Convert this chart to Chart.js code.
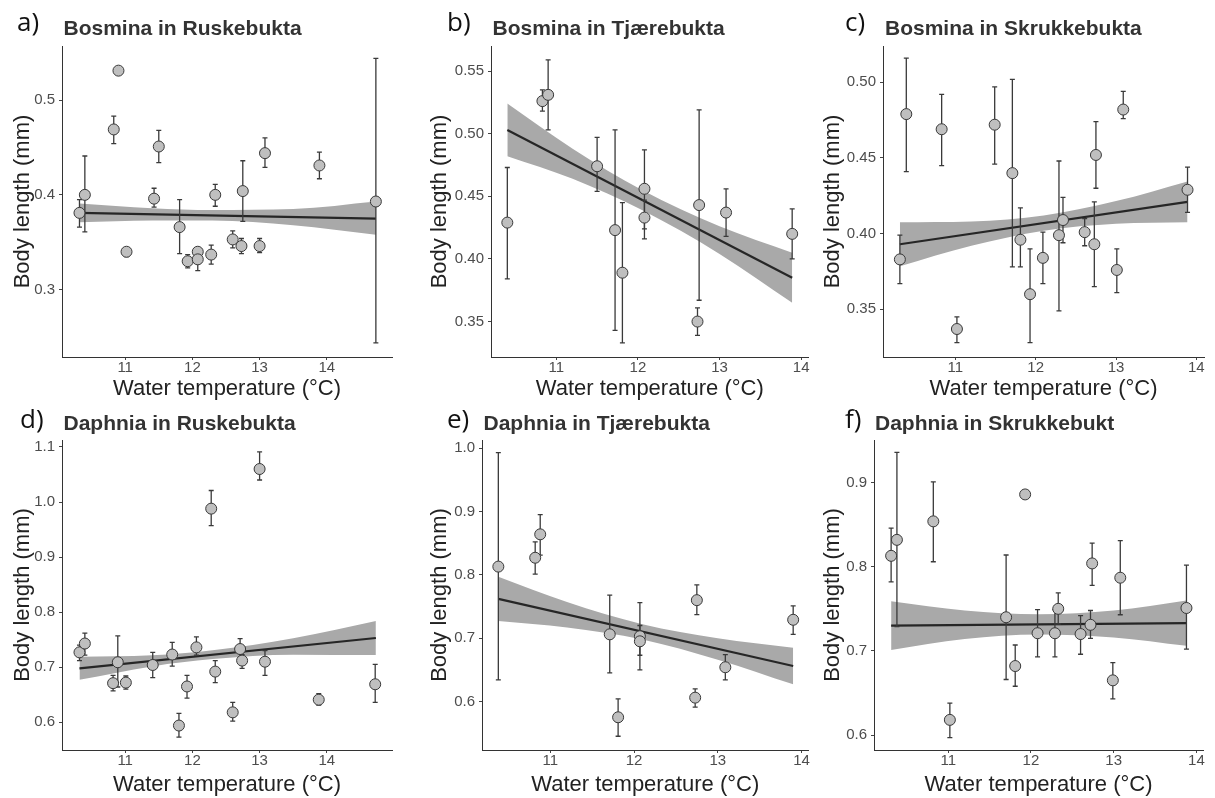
<!DOCTYPE html>
<html>
<head>
<meta charset="utf-8">
<title>Body length vs water temperature</title>
<script src="https://cdn.jsdelivr.net/npm/chart.js@4.4.1/dist/chart.umd.min.js"></script>
<style>
  html, body { margin: 0; padding: 0; background: #fff; }
  #wrap { position: relative; width: 1215px; height: 798px; overflow: hidden; }
  #wrap canvas { position: absolute; }
</style>
</head>
<body>
<div id="wrap"></div>
<script>
// x ticks shared by all panels
const tempTicks = [11, 12, 13, 14];

// a) Bosmina in Ruskebukta
const aTemp = [10.32, 10.40, 10.90, 10.83, 11.02, 11.43, 11.50, 11.81, 11.93, 12.08, 12.08, 12.28, 12.34, 12.60, 12.73, 12.75, 13.00, 13.08, 13.89, 14.73];
const aLength = [0.381, 0.400, 0.531, 0.469, 0.340, 0.396, 0.451, 0.366, 0.330, 0.340, 0.332, 0.337, 0.400, 0.353, 0.346, 0.404, 0.346, 0.444, 0.431, 0.393];
const aLow = [0.366, 0.361, 0.531, 0.454, 0.335, 0.387, 0.434, 0.338, 0.323, 0.340, 0.320, 0.327, 0.388, 0.344, 0.338, 0.372, 0.339, 0.429, 0.417, 0.244];
const aHigh = [0.395, 0.441, 0.531, 0.483, 0.344, 0.407, 0.468, 0.395, 0.337, 0.340, 0.339, 0.347, 0.411, 0.362, 0.354, 0.436, 0.354, 0.460, 0.445, 0.544];
const aFitX = [10.32, 14.73];
const aFitY = [0.381, 0.375];
const aBandX = [10.32, 11.4, 12.3, 13.5, 14.73];
const aBandUp = [0.391, 0.386, 0.384, 0.385, 0.393];
const aBandLo = [0.371, 0.373, 0.373, 0.368, 0.358];
const aYTicks = ['0.3', '0.4', '0.5'];

// b) Bosmina in Tjærebukta
const bTemp = [10.40, 10.83, 10.90, 11.50, 11.72, 11.81, 12.08, 12.08, 12.75, 12.73, 13.08, 13.89];
const bLength = [0.429, 0.526, 0.531, 0.474, 0.423, 0.389, 0.456, 0.433, 0.443, 0.350, 0.437, 0.420];
const bLow = [0.384, 0.518, 0.503, 0.454, 0.343, 0.333, 0.424, 0.416, 0.367, 0.339, 0.418, 0.400];
const bHigh = [0.473, 0.535, 0.559, 0.497, 0.503, 0.445, 0.487, 0.447, 0.519, 0.361, 0.456, 0.440];
const bFitX = [10.40, 13.89];
const bFitY = [0.503, 0.385];
const bBandX = [10.40, 11.2, 12.05, 13.0, 13.89];
const bBandUp = [0.524, 0.488, 0.455, 0.426, 0.405];
const bBandLo = [0.482, 0.464, 0.439, 0.404, 0.365];
const bYTicks = ['0.35', '0.40', '0.45', '0.50', '0.55'];

// c) Bosmina in Skrukkebukta
const cTemp = [10.31, 10.39, 10.83, 11.02, 11.49, 11.71, 11.81, 11.93, 12.09, 12.29, 12.34, 12.61, 12.73, 12.75, 13.01, 13.09, 13.89];
const cLength = [0.383, 0.479, 0.469, 0.337, 0.472, 0.440, 0.396, 0.360, 0.384, 0.399, 0.409, 0.401, 0.393, 0.452, 0.376, 0.482, 0.429];
const cLow = [0.367, 0.441, 0.445, 0.328, 0.446, 0.378, 0.378, 0.328, 0.367, 0.349, 0.394, 0.392, 0.365, 0.430, 0.361, 0.476, 0.414];
const cHigh = [0.399, 0.516, 0.492, 0.345, 0.497, 0.502, 0.417, 0.390, 0.401, 0.448, 0.424, 0.410, 0.421, 0.474, 0.390, 0.494, 0.444];
const cFitX = [10.31, 13.89];
const cFitY = [0.393, 0.421];
const cBandX = [10.31, 11.2, 12.1, 13.0, 13.89];
const cBandUp = [0.4075, 0.408, 0.412, 0.4215, 0.4345];
const cBandLo = [0.3785, 0.392, 0.402, 0.4065, 0.4075];
const cYTicks = ['0.35', '0.40', '0.45', '0.50'];

// d) Daphnia in Ruskebukta
const dTemp = [10.32, 10.40, 10.82, 10.89, 11.01, 11.41, 11.70, 11.80, 11.92, 12.06, 12.28, 12.34, 12.60, 12.71, 12.74, 13.00, 13.08, 13.88, 14.72];
const dLength = [0.727, 0.743, 0.671, 0.709, 0.672, 0.704, 0.723, 0.594, 0.665, 0.736, 0.988, 0.692, 0.618, 0.733, 0.712, 1.060, 0.710, 0.641, 0.669];
const dLow = [0.712, 0.722, 0.657, 0.664, 0.660, 0.681, 0.702, 0.573, 0.644, 0.722, 0.957, 0.672, 0.602, 0.713, 0.698, 1.040, 0.685, 0.631, 0.636];
const dHigh = [0.740, 0.762, 0.685, 0.757, 0.684, 0.727, 0.745, 0.616, 0.685, 0.755, 1.021, 0.712, 0.636, 0.752, 0.723, 1.091, 0.730, 0.652, 0.705];
const dFitX = [10.32, 14.73];
const dFitY = [0.698, 0.753];
const dBandX = [10.32, 11.4, 12.3, 13.5, 14.73];
const dBandUp = [0.719, 0.7215, 0.7307, 0.7527, 0.784];
const dBandLo = [0.677, 0.7015, 0.7147, 0.7227, 0.722];
const dYTicks = ['0.6', '0.7', '0.8', '0.9', '1.0', '1.1'];

// e) Daphnia in Tjærebukta
const eTemp = [10.38, 10.82, 10.88, 11.71, 11.81, 12.07, 12.07, 12.75, 12.73, 13.09, 13.90];
const eLength = [0.813, 0.827, 0.864, 0.706, 0.575, 0.703, 0.695, 0.760, 0.606, 0.654, 0.729];
const eLow = [0.634, 0.801, 0.831, 0.645, 0.545, 0.673, 0.650, 0.737, 0.591, 0.634, 0.706];
const eHigh = [0.993, 0.852, 0.895, 0.768, 0.604, 0.756, 0.720, 0.784, 0.620, 0.674, 0.751];
const eFitX = [10.38, 13.90];
const eFitY = [0.762, 0.656];
const eBandX = [10.38, 11.2, 12.1, 13.0, 13.90];
const eBandUp = [0.797, 0.757, 0.722, 0.700, 0.685];
const eBandLo = [0.727, 0.717, 0.698, 0.666, 0.627];
const eYTicks = ['0.6', '0.7', '0.8', '0.9', '1.0'];

// f) Daphnia in Skrukkebukt
const fTemp = [10.31, 10.38, 10.82, 11.02, 11.70, 11.81, 11.93, 12.08, 12.29, 12.33, 12.60, 12.72, 12.74, 12.99, 13.08, 13.88];
const fLength = [0.813, 0.832, 0.854, 0.618, 0.740, 0.682, 0.886, 0.721, 0.721, 0.750, 0.720, 0.731, 0.804, 0.665, 0.787, 0.751];
const fLow = [0.782, 0.729, 0.806, 0.597, 0.666, 0.658, 0.886, 0.693, 0.693, 0.732, 0.696, 0.715, 0.778, 0.643, 0.743, 0.702];
const fHigh = [0.846, 0.936, 0.901, 0.638, 0.814, 0.707, 0.886, 0.749, 0.749, 0.769, 0.742, 0.748, 0.828, 0.686, 0.831, 0.802];
const fFitX = [10.31, 13.88];
const fFitY = [0.730, 0.733];
const fBandX = [10.31, 11.2, 12.1, 13.0, 13.88];
const fBandUp = [0.759, 0.748, 0.7435, 0.748, 0.760];
const fBandLo = [0.701, 0.714, 0.7195, 0.716, 0.706];
const fYTicks = ['0.6', '0.7', '0.8', '0.9'];

// panel setup (layout in page pixels)
const panels = [
	{ letter: "a)", title: "Bosmina in Ruskebukta", temp: aTemp, len: aLength, low: aLow, high: aHigh,
		fitX: aFitX, fitY: aFitY, bandX: aBandX, bandUp: aBandUp, bandLo: aBandLo, yTicks: aYTicks,
		xMin: 10.06, xMax: 14.97, yMin: 0.229, yMax: 0.557,
		box: { left: 0, top: 0, width: 405, height: 400 }, area: { left: 62, right: 392, top: 46, bottom: 357 },
		yTitleX: 23, xTitleY: 388.5, letterX: 17, letterY: 30.5, titleX: 63.5, titleY: 35 },
	{ letter: "b)", title: "Bosmina in Tjærebukta", temp: bTemp, len: bLength, low: bLow, high: bHigh,
		fitX: bFitX, fitY: bFitY, bandX: bBandX, bandUp: bBandUp, bandLo: bBandLo, yTicks: bYTicks,
		xMin: 10.2, xMax: 14.09, yMin: 0.3217, yMax: 0.570,
		box: { left: 405, top: 0, width: 410, height: 400 }, area: { left: 491, right: 811, top: 46, bottom: 357 },
		yTitleX: 440, xTitleY: 388.5, letterX: 447, letterY: 30.5, titleX: 492.5, titleY: 35 },
	{ letter: "c)", title: "Bosmina in Skrukkebukta", temp: cTemp, len: cLength, low: cLow, high: cHigh,
		fitX: cFitX, fitY: cFitY, bandX: cBandX, bandUp: cBandUp, bandLo: cBandLo, yTicks: cYTicks,
		xMin: 10.1, xMax: 14.095, yMin: 0.3185, yMax: 0.524,
		box: { left: 810, top: 0, width: 405, height: 400 }, area: { left: 883, right: 1204, top: 46, bottom: 357 },
		yTitleX: 832.5, xTitleY: 388.5, letterX: 845, letterY: 30.5, titleX: 885, titleY: 35 },
	{ letter: "d)", title: "Daphnia in Ruskebukta", temp: dTemp, len: dLength, low: dLow, high: dHigh,
		fitX: dFitX, fitY: dFitY, bandX: dBandX, bandUp: dBandUp, bandLo: dBandLo, yTicks: dYTicks,
		xMin: 10.06, xMax: 14.97, yMin: 0.5496, yMax: 1.1127,
		box: { left: 0, top: 400, width: 405, height: 398 }, area: { left: 62, right: 392, top: 440, bottom: 750 },
		yTitleX: 22.5, xTitleY: 784.5, letterX: 20, letterY: 428.3, titleX: 63.5, titleY: 429.5 },
	{ letter: "e)", title: "Daphnia in Tjærebukta", temp: eTemp, len: eLength, low: eLow, high: eHigh,
		fitX: eFitX, fitY: eFitY, bandX: eBandX, bandUp: eBandUp, bandLo: eBandLo, yTicks: eYTicks,
		xMin: 10.185, xMax: 14.083, yMin: 0.5233, yMax: 1.013,
		box: { left: 405, top: 400, width: 410, height: 398 }, area: { left: 482, right: 811, top: 440, bottom: 750 },
		yTitleX: 440, xTitleY: 784.5, letterX: 447, letterY: 428.3, titleX: 483.5, titleY: 429.5 },
	{ letter: "f)", title: "Daphnia in Skrukkebukt", temp: fTemp, len: fLength, low: fLow, high: fHigh,
		fitX: fFitX, fitY: fFitY, bandX: fBandX, bandUp: fBandUp, bandLo: fBandLo, yTicks: fYTicks,
		xMin: 10.103, xMax: 14.08, yMin: 0.5822, yMax: 0.9507,
		box: { left: 810, top: 400, width: 405, height: 398 }, area: { left: 874, right: 1203, top: 440, bottom: 750 },
		yTitleX: 832.5, xTitleY: 784.5, letterX: 845, letterY: 428.3, titleX: 875, titleY: 429.5 },
];

Chart.defaults.font.family = "\"Liberation Sans\", Arial, sans-serif";
Chart.defaults.animation = false;

// vertical error bars, drawn just before the points
const errorBars = {
	id: "errorBars",
	beforeDatasetDraw(chart, args) {
		if (args.index !== 0) return;
		const { ctx } = chart;
		const xs = chart.scales.x;
		const ys = chart.scales.y;
		ctx.save();
		ctx.strokeStyle = "#3a3a3a";
		ctx.lineWidth = 1.3;
		chart.data.datasets[0].data.forEach((pt) => {
			if (pt.high - pt.low < 1e-6) return;
			const px = xs.getPixelForValue(pt.x);
			const top = ys.getPixelForValue(pt.high);
			const bot = ys.getPixelForValue(pt.low);
			ctx.beginPath();
			ctx.moveTo(px, top);
			ctx.lineTo(px, bot);
			ctx.moveTo(px - 2.5, top);
			ctx.lineTo(px + 2.5, top);
			ctx.moveTo(px - 2.5, bot);
			ctx.lineTo(px + 2.5, bot);
			ctx.stroke();
		});
		ctx.restore();
	},
};

// panel letter and title
const panelText = {
	id: "panelText",
	afterDraw(chart, args, opts) {
		const { ctx } = chart;
		ctx.save();
		ctx.textAlign = "left";
		ctx.textBaseline = "alphabetic";
		ctx.fillStyle = "#111";
		ctx.font = "26px \"Open Sans\", sans-serif";
		ctx.fillText(opts.letter, opts.letterX, opts.letterY);
		ctx.fillStyle = "#333";
		ctx.font = "bold 21px \"Liberation Sans\", Arial, sans-serif";
		ctx.fillText(opts.title, opts.titleX, opts.titleY);
		ctx.restore();
	},
};

const wrap = document.getElementById("wrap");

panels.forEach((p) => {
	const canvas = document.createElement("canvas");
	canvas.width = p.box.width;
	canvas.height = p.box.height;
	canvas.style.left = p.box.left + "px";
	canvas.style.top = p.box.top + "px";
	wrap.appendChild(canvas);

	const points = p.temp.map((t, i) => ({ x: t, y: p.len[i], low: p.low[i], high: p.high[i] }));
	const fit = p.fitX.map((t, i) => ({ x: t, y: p.fitY[i] }));
	const upper = p.bandX.map((t, i) => ({ x: t, y: p.bandUp[i] }));
	const lower = p.bandX.map((t, i) => ({ x: t, y: p.bandLo[i] }));

	new Chart(canvas, {
		type: "scatter",
		data: {
			datasets: [
				{ type: "scatter", data: points, pointRadius: 5.5, pointHoverRadius: 5.5,
					backgroundColor: "#bfbfbf", borderColor: "#383838", borderWidth: 1, order: 0 },
				{ type: "line", data: fit, borderColor: "#262626", borderWidth: 2.2,
					pointRadius: 0, fill: false, order: 1 },
				{ type: "line", data: upper, borderWidth: 0, pointRadius: 0, fill: "+1",
					backgroundColor: "#a9a9a9", cubicInterpolationMode: "monotone", order: 2 },
				{ type: "line", data: lower, borderWidth: 0, pointRadius: 0, fill: false,
					cubicInterpolationMode: "monotone", order: 3 },
			],
		},
		options: {
			responsive: false,
			events: [],
			layout: {
				padding: {
					left: 0,
					bottom: 0,
					top: p.area.top - p.box.top,
					right: p.box.left + p.box.width - p.area.right,
				},
			},
			plugins: {
				legend: { display: false },
				tooltip: { enabled: false },
				panelText: {
					letter: p.letter,
					title: p.title,
					letterX: p.letterX - p.box.left,
					letterY: p.letterY - p.box.top,
					titleX: p.titleX - p.box.left,
					titleY: p.titleY - p.box.top,
				},
			},
			scales: {
				x: {
					type: "linear",
					min: p.xMin,
					max: p.xMax,
					afterBuildTicks: (s) => { s.ticks = tempTicks.map((v) => ({ value: v })); },
					afterFit: (s) => { s.height = p.box.top + p.box.height - p.area.bottom; },
					grid: { drawOnChartArea: false, drawTicks: true, tickLength: 3, color: "#444" },
					border: { display: true, color: "#333", width: 1 },
					ticks: { color: "#4d4d4d", padding: 0, maxRotation: 0, autoSkip: false,
						font: { size: 15, lineHeight: 1 }, callback: (v) => String(v) },
					title: { display: true, text: "Water temperature (°C)", color: "#222",
						font: { size: 22, lineHeight: 1 },
						padding: { top: 0, bottom: p.box.top + p.box.height - p.xTitleY - 11 } },
				},
				y: {
					type: "linear",
					min: p.yMin,
					max: p.yMax,
					afterBuildTicks: (s) => { s.ticks = p.yTicks.map((v) => ({ value: parseFloat(v) })); },
					afterFit: (s) => { s.width = p.area.left - p.box.left; },
					grid: { drawOnChartArea: false, drawTicks: true, tickLength: 3, color: "#444" },
					border: { display: true, color: "#333", width: 1 },
					ticks: { color: "#4d4d4d", padding: 4, autoSkip: false,
						font: { size: 15, lineHeight: 1 }, callback: (v, i) => p.yTicks[i] },
					title: { display: true, text: "Body length (mm)", color: "#222",
						font: { size: 22, lineHeight: 1 },
						padding: { top: p.yTitleX - p.box.left - 11, bottom: 0 } },
				},
			},
		},
		plugins: [errorBars, panelText],
	});
});
</script>
</body>
</html>
